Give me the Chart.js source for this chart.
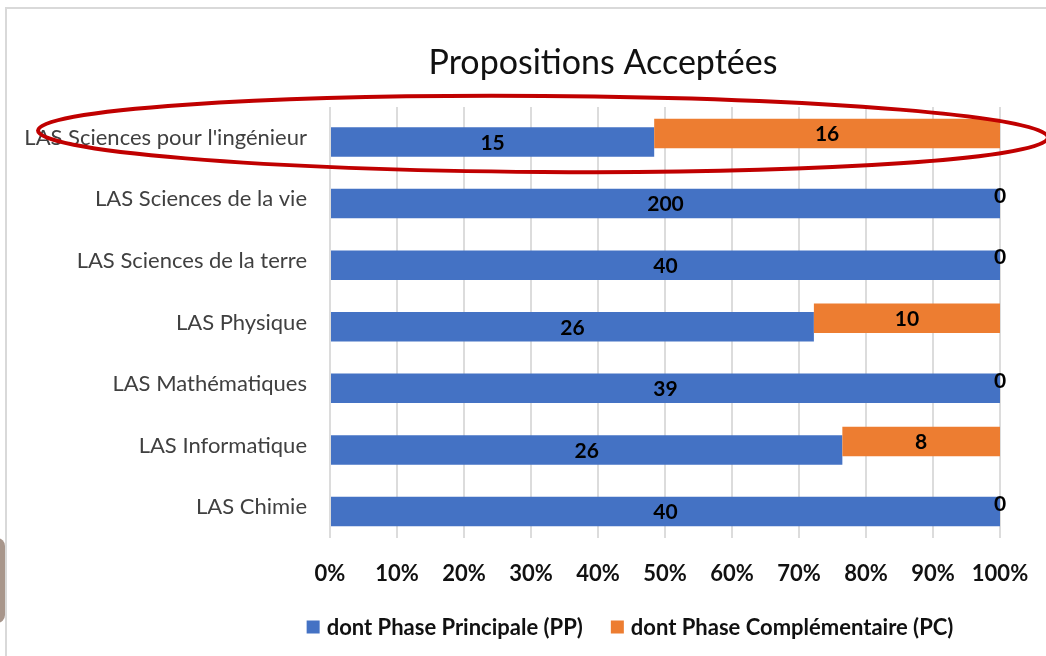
<!DOCTYPE html>
<html>
<head>
<meta charset="utf-8">
<script src="https://cdn.jsdelivr.net/npm/chart.js@4"></script>
<style>
  html, body { margin: 0; padding: 0; background: #fff; }
  #wrap { width: 1046px; height: 656px; position: relative; }
</style>
</head>
<body>
<div id="wrap"><canvas id="chartProps"></canvas></div>
<script>
// données du graphique
const categories = [
    "LAS Sciences pour l'ingénieur",
    'LAS Sciences de la vie',
    'LAS Sciences de la terre',
    'LAS Physique',
    'LAS Mathématiques',
    'LAS Informatique',
    'LAS Chimie'
];
const ppCounts = [15, 200, 40, 26, 39, 26, 40];
const pcCounts = [16, 0, 0, 10, 0, 8, 0];
const seriesNames = ['dont Phase Principale (PP)', 'dont Phase Complémentaire (PC)'];
const seriesColors = ['#4472C4', '#ED7D31'];
const chartTitle = 'Propositions Acceptées';
const xTickValues = [0, 10, 20, 30, 40, 50, 60, 70, 80, 90, 100];

const FONT = 'Lato, "Open Sans", sans-serif';

// parts en pourcentage (barres 100 %)
const ppShare = ppCounts.map((v, i) => v / (v + pcCounts[i]) * 100);
const pcRange = ppShare.map(s => [s, 100]);

// étiquettes de valeurs au centre des barres
const valueLabels = {
    id: 'valueLabels',
    afterDatasetsDraw(chart) {
        const ctx = chart.ctx;
        ctx.save();
        ctx.font = 'bold 21px ' + FONT;
        ctx.fillStyle = '#000';
        ctx.textAlign = 'center';
        ctx.textBaseline = 'middle';
        chart.data.datasets.forEach((ds, di) => {
            const meta = chart.getDatasetMeta(di);
            meta.data.forEach((bar, i) => {
                const p = bar.getProps(['x', 'base', 'y'], true);
                ctx.fillText(String(ds.counts[i]), (p.x + p.base) / 2, p.y + 1);
            });
        });
        ctx.restore();
    }
};

// titre, légende, cadre et annotation
const decor = {
    id: 'decor',
    afterDraw(chart) {
        const ctx = chart.ctx;
        ctx.save();

        // cadre gris
        ctx.strokeStyle = '#D9D9D9';
        ctx.lineWidth = 2;
        ctx.beginPath();
        ctx.moveTo(6, 656);
        ctx.lineTo(6, 8);
        ctx.lineTo(1046, 8);
        ctx.stroke();

        // petit morceau à gauche
        ctx.fillStyle = '#A8968B';
        ctx.beginPath();
        ctx.roundRect(-12, 538, 17, 85, 8);
        ctx.fill();

        // titre
        ctx.fillStyle = '#111';
        ctx.font = '34px ' + FONT;
        ctx.textAlign = 'center';
        ctx.textBaseline = 'middle';
        ctx.fillText(chartTitle, 603, 63);

        // légende (PP puis PC)
        ctx.font = 'bold 22px ' + FONT;
        ctx.textAlign = 'left';
        const box = 13, gapTxt = 7, gapItem = 28;
        const widths = seriesNames.map(n => box + gapTxt + ctx.measureText(n).width);
        const total = widths[0] + gapItem + widths[1];
        let x = 630 - total / 2;
        const ly = 627;
        seriesNames.forEach((n, i) => {
            ctx.fillStyle = seriesColors[i];
            ctx.fillRect(x, ly - box / 2, box, box);
            ctx.fillStyle = '#111';
            ctx.fillText(n, x + box + gapTxt, ly + 1);
            x += widths[i] + gapItem;
        });

        // ellipse rouge autour de la première ligne
        ctx.strokeStyle = '#C00000';
        ctx.lineWidth = 4;
        ctx.beginPath();
        ctx.ellipse(543, 134, 505, 38, 0.007, 0, Math.PI * 2);
        ctx.stroke();

        ctx.restore();
    }
};

new Chart(document.getElementById('chartProps'), {
    type: 'bar',
    data: {
        labels: categories,
        datasets: [
            {
                label: seriesNames[1],
                data: pcRange,
                counts: pcCounts,
                backgroundColor: seriesColors[1],
                borderWidth: 0
            },
            {
                label: seriesNames[0],
                data: ppShare,
                counts: ppCounts,
                backgroundColor: seriesColors[0],
                borderWidth: 0
            }
        ]
    },
    options: {
        indexAxis: 'y',
        responsive: true,
        maintainAspectRatio: false,
        animation: false,
        categoryPercentage: 0.276,
        barPercentage: 3.47,
        layout: { padding: { top: 107, right: 46, bottom: 58, left: 0 } },
        plugins: {
            legend: { display: false },
            title: { display: false },
            tooltip: { enabled: false }
        },
        scales: {
            x: {
                min: 0,
                max: 100,
                afterBuildTicks: (scale) => { scale.ticks = xTickValues.map(v => ({ value: v })); },
                afterFit: (scale) => {
                    scale.height = 60;
                    scale.paddingLeft = 0;
                    scale.paddingRight = 0;
                },
                grid: { color: '#DCDCDC', lineWidth: 2, drawTicks: false },
                border: { display: false },
                ticks: {
                    padding: 23,
                    color: '#111',
                    font: { family: FONT, size: 22, weight: 'bold' },
                    callback: v => v + '%'
                }
            },
            y: {
                afterFit: (scale) => { scale.width = 330; },
                grid: { display: false, drawTicks: false },
                border: { display: false },
                ticks: {
                    padding: 23,
                    color: '#404040',
                    font: { family: FONT, size: 22 }
                }
            }
        }
    },
    plugins: [valueLabels, decor]
});
</script>
</body>
</html>
